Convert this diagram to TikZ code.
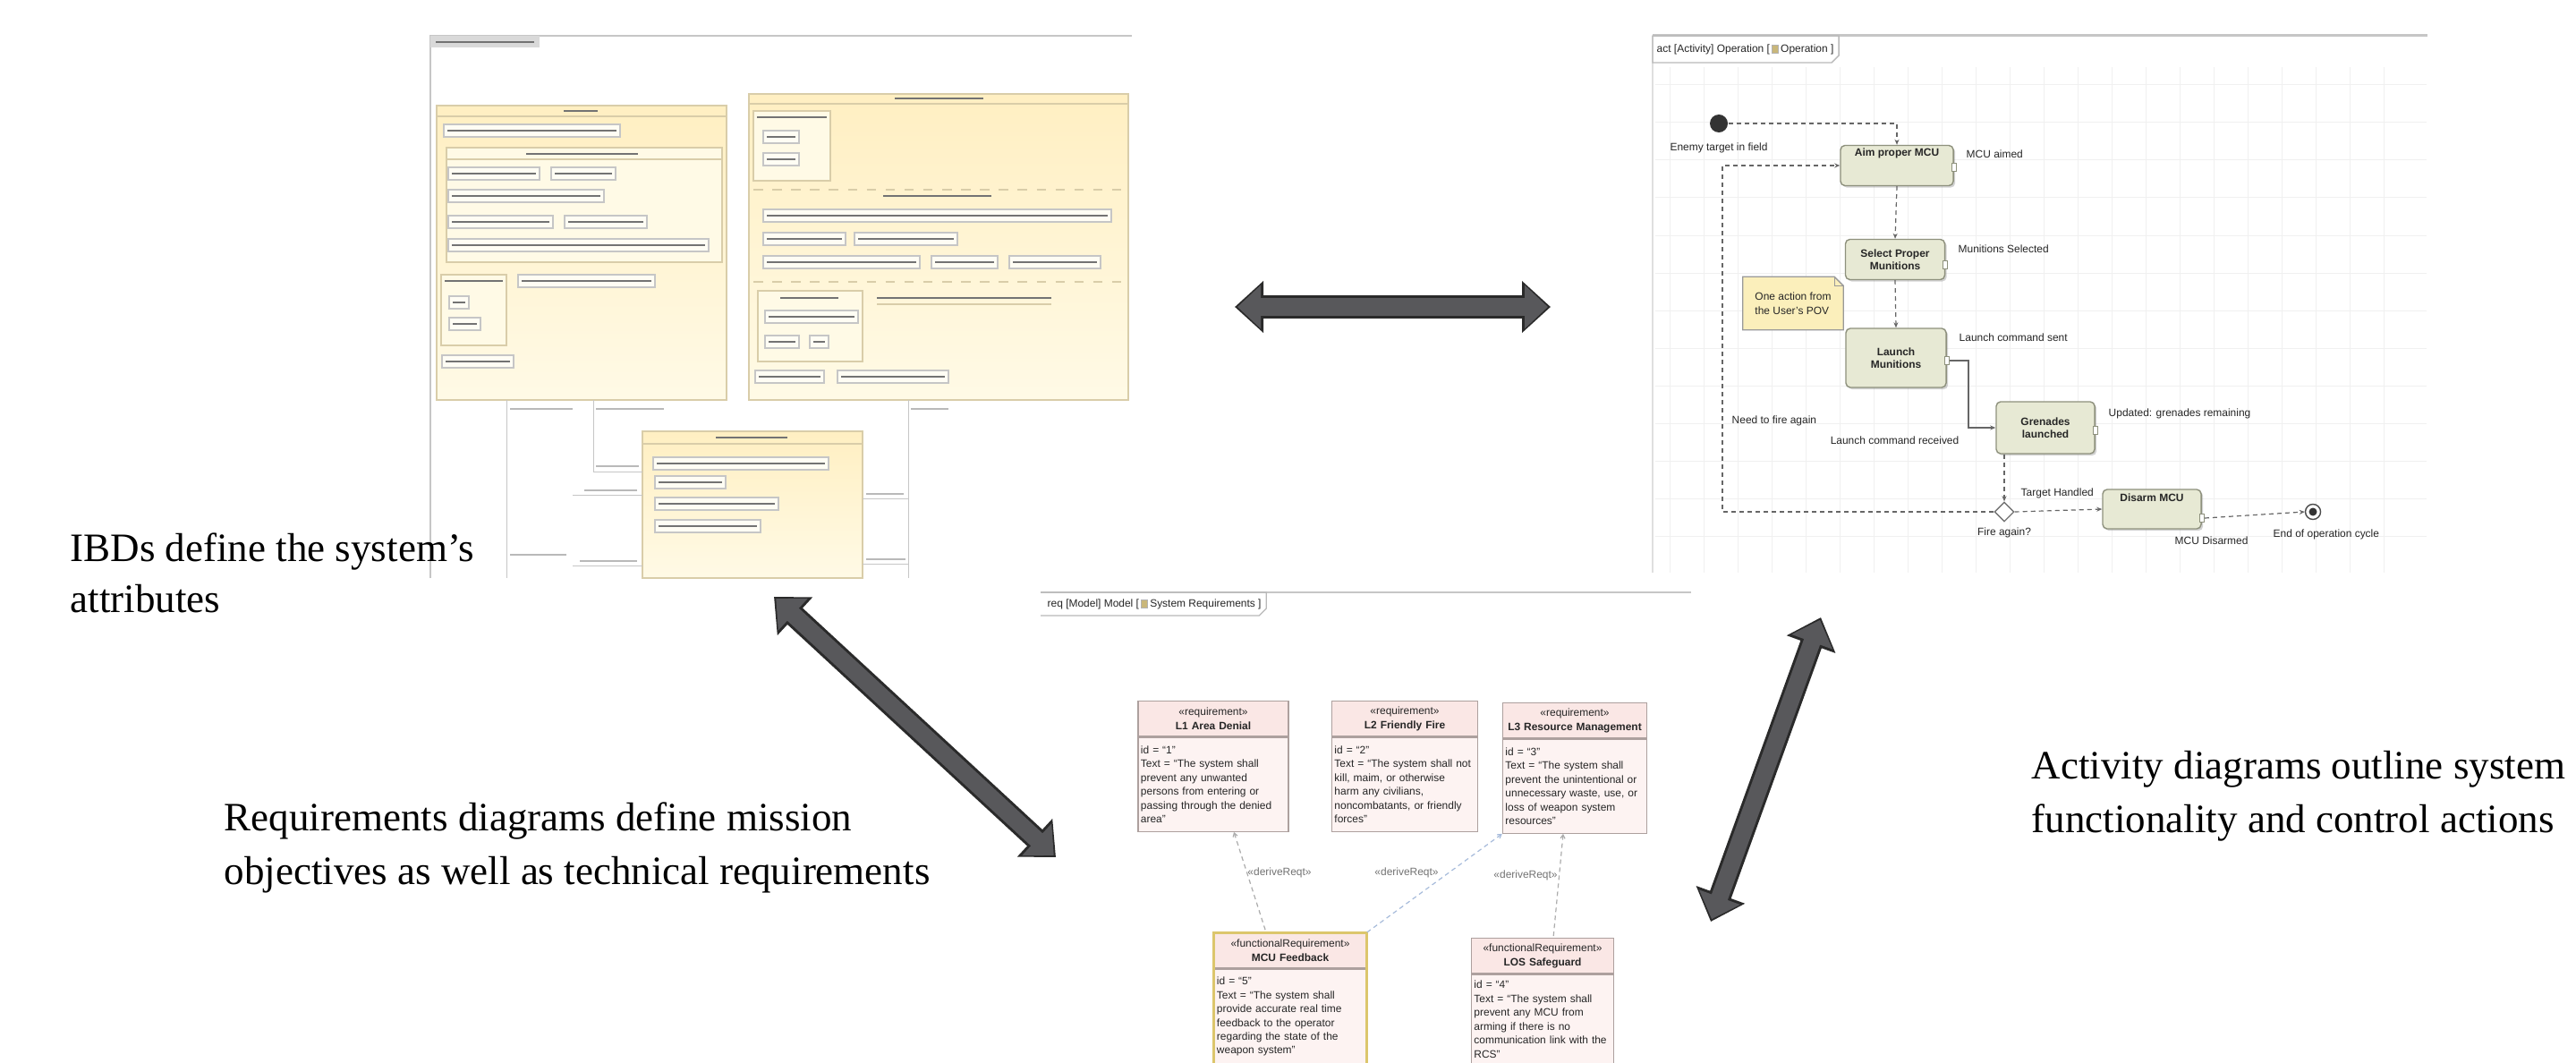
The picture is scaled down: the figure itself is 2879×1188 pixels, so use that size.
\documentclass[tikz,border=0pt]{standalone}
\usepackage{fontspec}
\setmainfont{Liberation Serif}
\setsansfont{Liberation Sans}
\usepackage{tikz}
\usetikzlibrary{arrows.meta,shapes.geometric,shadows,positioning,calc}

\definecolor{ibdfill}{HTML}{FFEFC2}
\definecolor{ibdpale}{HTML}{FFFAE6}
\definecolor{ibdedge}{HTML}{D9CDA9}
\definecolor{reqfill}{HTML}{FDF3F2}
\definecolor{reqheadcol}{HTML}{FAE7E5}
\definecolor{reqedge}{HTML}{ADA09E}
\definecolor{actfill}{HTML}{E7E9D4}
\definecolor{actedge}{HTML}{8E917D}
\definecolor{notefill}{HTML}{FBEFBB}
\definecolor{fatfill}{HTML}{58585B}
\definecolor{fatedge}{HTML}{2A2A2A}
\definecolor{seledge}{HTML}{DCC66C}
\definecolor{linkblue}{HTML}{A7BBDB}
\definecolor{iconcol}{HTML}{C9B77A}

% one unit = one pixel of the reference, y pointing down
\tikzset{
  captext/.style={font=\fontsize{12.8}{15}\selectfont, anchor=base west, inner sep=0pt},
  tinytext/.style={font=\sffamily\fontsize{3.4}{4.4}\selectfont, inner sep=0pt, text=black!85},
  frameline/.style={draw=gray!45, line width=0.025cm},
  gridline/.style={draw=gray!12, line width=0.01cm},
  ibdblock/.style={draw=ibdedge, top color=ibdfill, bottom color=ibdpale},
  ibdinner/.style={draw=ibdedge, fill=ibdpale},
  ibdpartbox/.style={draw=gray!45, fill=white!55!ibdpale},
  ibdtext/.style={draw=black!55, line width=0.022cm},
  ibdlink/.style={draw=gray!45, line width=0.01cm},
  linklabel/.style={draw=gray!55, line width=0.014cm},
  action/.style={tinytext, font=\sffamily\bfseries\fontsize{3.4}{4.1}\selectfont,
    rectangle, rounded corners=0.05cm, draw=actedge, fill=actfill, align=center,
    inner sep=0.03cm, minimum width=1.1cm, minimum height=0.45cm,
    drop shadow={shadow xshift=0.6pt, shadow yshift=-0.6pt, opacity=0.35}},
  actpin/.style={draw=actedge, fill=white, minimum width=0.05cm, minimum height=0.09cm, inner sep=0pt},
  flow/.style={draw=black!60, line width=0.012cm, dash pattern=on 0.05cm off 0.04cm,
    -{Stealth[length=0.06cm, width=0.05cm]}},
  solidflow/.style={draw=black!60, line width=0.012cm, -{Stealth[length=0.06cm, width=0.05cm]}},
  reqtop/.style={tinytext, draw=reqedge, fill=reqheadcol, align=center, text width=#1,
    inner xsep=0.03cm, inner ysep=0.035cm, minimum height=0.39cm, anchor=north},
  reqbody/.style={tinytext, draw=reqedge, fill=reqfill, align=left, text width=#1,
    inner xsep=0.03cm, inner ysep=0.03cm},
  derive/.style={draw=gray!65, line width=0.012cm, dash pattern=on 0.05cm off 0.04cm,
    {Straight Barb[length=0.04cm, width=0.05cm]}-},
  iconbox/.style={draw=gray!60, fill=iconcol, minimum width=0.07cm, minimum height=0.09cm, inner sep=0pt},
}

\newcommand{\ibdpart}[3]{%
  \draw[ibdpartbox] (#1,#3-7) rectangle (#2,#3+7);
  \draw[ibdtext] (#1+4,#3) -- (#2-4,#3);
}
\newcommand{\ibdbar}[3]{\draw[ibdtext] (#1,#3) -- (#2,#3);}
\newcommand{\fatarrow}[2]{%
  \draw[fatedge, line width=0.25cm,
    {Triangle[length=0.32cm,width=0.56cm]}-{Triangle[length=0.32cm,width=0.56cm]}] (#1) -- (#2);
  \draw[fatfill, line width=0.19cm, shorten <=0.03cm, shorten >=0.03cm,
    {Triangle[length=0.26cm,width=0.47cm]}-{Triangle[length=0.26cm,width=0.47cm]}] (#1) -- (#2);
}

\begin{document}
\begin{tikzpicture}[x=0.01cm, y=-0.01cm]
  \useasboundingbox (0,0) rectangle (2879,1188);
  \fill[white] (0,0) rectangle (2879,1188);

  % IBD screenshot
  \draw[frameline] (481,646) -- (481,40) -- (1265,40);
  \fill[gray!30] (481,40) rectangle (603,53);
  \ibdbar{487}{597}{47}

  % left block
  \draw[ibdblock] (488,118) rectangle (812,447);
  \draw[ibdedge] (488,130) -- (812,130);
  \ibdbar{630}{668}{124}
  \ibdpart{496}{693}{146}
  \draw[ibdinner] (499,165) rectangle (807,293);
  \draw[ibdedge] (499,178) -- (807,178);
  \ibdbar{588}{713}{172}
  \ibdpart{501}{603}{194}
  \ibdpart{616}{688}{194}
  \ibdpart{501}{675}{219}
  \ibdpart{501}{618}{248}
  \ibdpart{631}{723}{248}
  \ibdpart{501}{792}{274}
  \draw[ibdinner] (493,307) rectangle (566,386);
  \ibdbar{497}{562}{314}
  \ibdpart{502}{524}{338}
  \ibdpart{502}{537}{362}
  \ibdpart{579}{732}{314}
  \ibdpart{494}{574}{404}

  % right block
  \draw[ibdblock] (837,105) rectangle (1261,447);
  \draw[ibdedge] (837,116) -- (1261,116);
  \ibdbar{1000}{1099}{110}
  \draw[ibdinner] (842,124) rectangle (928,202);
  \ibdbar{846}{924}{131}
  \ibdpart{853}{893}{153}
  \ibdpart{853}{893}{178}
  \draw[ibdedge, dashed] (842,212) -- (1257,212);
  \ibdbar{987}{1108}{219}
  \ibdpart{853}{1242}{241}
  \ibdpart{853}{945}{267}
  \ibdpart{955}{1070}{267}
  \ibdpart{853}{1028}{293}
  \ibdpart{1041}{1115}{293}
  \ibdpart{1128}{1230}{293}
  \draw[ibdedge, dashed] (842,315) -- (1257,315);
  \draw[ibdinner] (847,325) rectangle (964,404);
  \ibdbar{872}{937}{333}
  \ibdpart{855}{959}{354}
  \ibdpart{855}{893}{382}
  \ibdpart{905}{926}{382}
  \ibdbar{980}{1175}{333}
  \draw[ibdedge] (980,340) -- (1175,340);
  \ibdpart{844}{921}{421}
  \ibdpart{936}{1060}{421}

  % lower block
  \draw[ibdblock] (718,482) rectangle (964,646);
  \draw[ibdedge] (718,496) -- (964,496);
  \ibdbar{800}{880}{489}
  \ibdpart{730}{926}{518}
  \ibdpart{732}{811}{539}
  \ibdpart{732}{870}{563}
  \ibdpart{732}{850}{588}

  % IBD connectors
  \draw[ibdlink] (566,447) -- (566,646);
  \draw[ibdlink] (663,447) -- (663,527) -- (718,527);
  \draw[ibdlink] (640,553) -- (718,553);
  \draw[ibdlink] (640,632) -- (718,632);
  \draw[ibdlink] (1015,447) -- (1015,646);
  \draw[ibdlink] (964,557) -- (1015,557);
  \draw[ibdlink] (964,630) -- (1015,630);
  \draw[linklabel] (570,457) -- (640,457);
  \draw[linklabel] (666,457) -- (742,457);
  \draw[linklabel] (666,521) -- (714,521);
  \draw[linklabel] (653,548) -- (712,548);
  \draw[linklabel] (570,620) -- (633,620);
  \draw[linklabel] (648,627) -- (712,627);
  \draw[linklabel] (968,552) -- (1010,552);
  \draw[linklabel] (968,625) -- (1012,625);
  \draw[linklabel] (1018,457) -- (1060,457);

  % Activity screenshot: frame and grid
  \foreach \gx in {1866,1904,...,2700}
    \draw[gridline] (\gx,75) -- (\gx,640);
  \foreach \gy in {95,137,...,630}
    \draw[gridline] (1850,\gy) -- (2712,\gy);
  \coordinate (actframe) at (1847,40);
  \coordinate (acttabbot) at (1847,70);
  \draw[frameline, line width=0.03cm] (actframe) -- (2713,40);
  \draw[gray!25] (actframe) -- (1847,640);
  \node[tinytext, anchor=west] (acttabA) at (1851,55) {act [Activity] Operation [};
  \node[iconbox, right=0.012cm of acttabA] (acticon) {};
  \node[tinytext, right=0.012cm of acticon] (acttabB) {Operation ]};
  \coordinate (acttabend) at ([xshift=0.05cm]acttabB.east);
  \draw[gray!55] (actframe) -- (acttabend |- actframe) -- ([yshift=0.08cm]acttabend |- acttabbot)
    -- ([xshift=-0.08cm]acttabend |- acttabbot) -- (acttabbot) -- cycle;

  % Activity nodes
  \node[circle, fill=black!80, minimum size=0.2cm, inner sep=0pt] (start) at (1921,138) {};
  \node[tinytext, below=0.1cm of start] (startlbl) {Enemy target in field};
  \node[action, minimum width=1.26cm, text depth=0.29cm] (aim) at (2120,185) {Aim proper MCU};
  \node[tinytext, anchor=west] (aimlbl) at (2197,172) {MCU aimed};
  \node[action, minimum width=1.11cm] (sel) at (2118,290) {Select Proper\\Munitions};
  \node[tinytext, anchor=west] (sellbl) at (2188,278) {Munitions Selected};
  \node[action, minimum width=1.12cm, minimum height=0.66cm] (lau) at (2119,400) {Launch\\Munitions};
  \node[tinytext, anchor=west] (laulbl) at (2189,377) {Launch command sent};
  \node[action, minimum width=1.1cm, minimum height=0.58cm] (gre) at (2286,478) {Grenades\\launched};
  \node[tinytext, anchor=west] (grelbl) at (2356,462) {Updated: grenades remaining};
  \node[tinytext, anchor=east] (recvlbl) at (2190,492) {Launch command received};
  \node[tinytext, anchor=west] (againlbl) at (1935,470) {Need to fire again};
  \node[diamond, draw=black!55, fill=white, minimum size=0.22cm, inner sep=0pt] (dec) at (2240,572) {};
  \node[tinytext, below=0.05cm of dec] (declbl) {Fire again?};
  \node[tinytext, anchor=west] (handlbl) at (2258,551) {Target Handled};
  \node[action, minimum width=1.1cm, minimum height=0.44cm, text depth=0.25cm] (dis) at (2405,569) {Disarm MCU};
  \node[tinytext, anchor=west] (dislbl) at (2430,604) {MCU Disarmed};
  \node[circle, draw=black!70, fill=white, minimum size=0.17cm, inner sep=0pt] (fin) at (2585,572) {};
  \node[circle, fill=black!80, minimum size=0.09cm, inner sep=0pt] (finc) at (fin) {};
  \node[tinytext, anchor=west] (finlbl) at (2540,597) {End of operation cycle};

  % pins
  \node[actpin] (aimpin) at ([yshift=-0.02cm]aim.east) {};
  \node[actpin] (selpin) at ([yshift=-0.06cm]sel.east) {};
  \node[actpin] (laupin) at ([yshift=-0.03cm]lau.east) {};
  \node[actpin] (grepin) at ([yshift=-0.03cm]gre.east) {};
  \node[actpin] (dispin) at ([yshift=-0.1cm]dis.east) {};

  % note
  \node[tinytext, align=left, minimum width=1.11cm, minimum height=0.58cm, text depth=0.02cm] (note) at (2004,339) {\\One action from\\the User's POV};
  \draw[draw=black!40, fill=notefill] (note.north west) -- ([xshift=-0.1cm]note.north east)
    -- ([yshift=-0.1cm]note.north east) -- (note.south east) -- (note.south west) -- cycle;
  \draw[black!40] ([xshift=-0.1cm]note.north east) -- ([xshift=-0.1cm, yshift=-0.1cm]note.north east)
    -- ([yshift=-0.1cm]note.north east);
  \node[tinytext, align=left] at (note) {One action from\\the User's POV};

  % activity flows
  \coordinate (loopx) at (1925,0);
  \coordinate (bend) at (2200,0);
  \draw[flow] (start.east) -- (start.east -| aim.north) -- (aim.north);
  \draw[flow] (aim.south) -- (sel.north);
  \draw[flow] (sel.south) -- (lau.north);
  \draw[solidflow] (laupin.east) -- (laupin.east -| bend) -- (bend |- gre.west) -- (gre.west);
  \draw[flow] (gre.south -| dec.north) -- (dec.north);
  \draw[flow] (dec.east) -- (dis.west);
  \draw[flow] (dispin.east) -- (fin.west);
  \draw[flow] (dec.west) -- (dec.west -| loopx) -- (loopx |- aim.west) -- (aim.west);

  % Requirements screenshot
  \coordinate (reqframe) at (1163,662);
  \coordinate (reqtabbot) at (1163,688);
  \draw[frameline] (reqframe) -- (1890,662);
  \node[tinytext, anchor=west] (reqtabA) at (1170,675) {req [Model] Model [};
  \node[iconbox, right=0.012cm of reqtabA] (reqicon) {};
  \node[tinytext, right=0.012cm of reqicon] (reqtabB) {System Requirements ]};
  \coordinate (reqtabend) at ([xshift=0.05cm]reqtabB.east);
  \draw[gray!55] (reqframe) -- (reqtabend |- reqframe) -- ([yshift=0.08cm]reqtabend |- reqtabbot)
    -- ([xshift=-0.08cm]reqtabend |- reqtabbot) -- (reqtabbot);

  \node[reqtop=1.62cm] (r1h) at (1356,783) {«requirement»\\\textbf{L1 Area Denial}};
  \node[reqbody=1.62cm, below=0pt of r1h, minimum height=1.05cm] (r1b) {id = “1”\\Text = “The system shall\\prevent any unwanted\\persons from entering or\\passing through the denied\\area”};
  \node[reqtop=1.57cm] (r2h) at (1570,783) {«requirement»\\\textbf{L2 Friendly Fire}};
  \node[reqbody=1.57cm, below=0pt of r2h, minimum height=1.05cm] (r2b) {id = “2”\\Text = “The system shall not\\kill, maim, or otherwise\\harm any civilians,\\noncombatants, or friendly\\forces”};
  \node[reqtop=1.55cm] (r3h) at (1760,785) {«requirement»\\\textbf{L3 Resource Management}};
  \node[reqbody=1.55cm, below=0pt of r3h, minimum height=1.05cm] (r3b) {id = “3”\\Text = “The system shall\\prevent the unintentional or\\unnecessary waste, use, or\\loss of weapon system\\resources”};
  \node[reqtop=1.64cm] (r5h) at (1442,1042) {«functionalRequirement»\\\textbf{MCU Feedback}};
  \node[reqbody=1.64cm, below=0pt of r5h, minimum height=1.06cm] (r5b) {id = “5”\\Text = “The system shall\\provide accurate real time\\feedback to the operator\\regarding the state of the\\weapon system”};
  \draw[seledge, line width=0.03cm] (r5h.north west) rectangle (r5b.south east);
  \node[reqtop=1.53cm] (r6h) at (1724,1048) {«functionalRequirement»\\\textbf{LOS Safeguard}};
  \node[reqbody=1.53cm, below=0pt of r6h, minimum height=1.0cm] (r6b) {id = “4”\\Text = “The system shall\\prevent any MCU from\\arming if there is no\\communication link with the\\RCS”};

  \node[tinytext, text=black!55] (d1) at (1430,975) {«deriveReqt»};
  \node[tinytext, text=black!55] (d2) at (1572,975) {«deriveReqt»};
  \node[tinytext, text=black!55] (d3) at (1705,978) {«deriveReqt»};
  \draw[derive] ([xshift=0.23cm]r1b.south) -- ([xshift=-0.27cm]r5h.north);
  \draw[derive, draw=linkblue] (r3b.south west) -- (r5h.north east);
  \draw[derive] ([xshift=-0.13cm]r3b.south) -- ([xshift=0.12cm]r6h.north);

  % Captions
  \node[captext] (ibdcapA) at (78,627) {IBDs define the system’s};
  \node[captext] (ibdcapB) at (78,684) {attributes};
  \node[captext] (reqcapA) at (250,928) {Requirements diagrams define mission};
  \node[captext] (reqcapB) at (250,988) {objectives as well as technical requirements};
  \node[captext] (actcapA) at (2270,870) {Activity diagrams outline system};
  \node[captext] (actcapB) at (2270,930) {functionality and control actions};

  % Double arrows between the diagrams
  \coordinate (ibdE) at (1380,343);
  \coordinate (actW) at (1733,343);
  \coordinate (ibdS) at (865,667);
  \coordinate (reqNW) at (1180,958);
  \coordinate (actS) at (2035,690);
  \coordinate (reqNE) at (1912,1030);
  \fatarrow{ibdE}{actW}
  \fatarrow{ibdS}{reqNW}
  \fatarrow{actS}{reqNE}
\end{tikzpicture}
\end{document}
